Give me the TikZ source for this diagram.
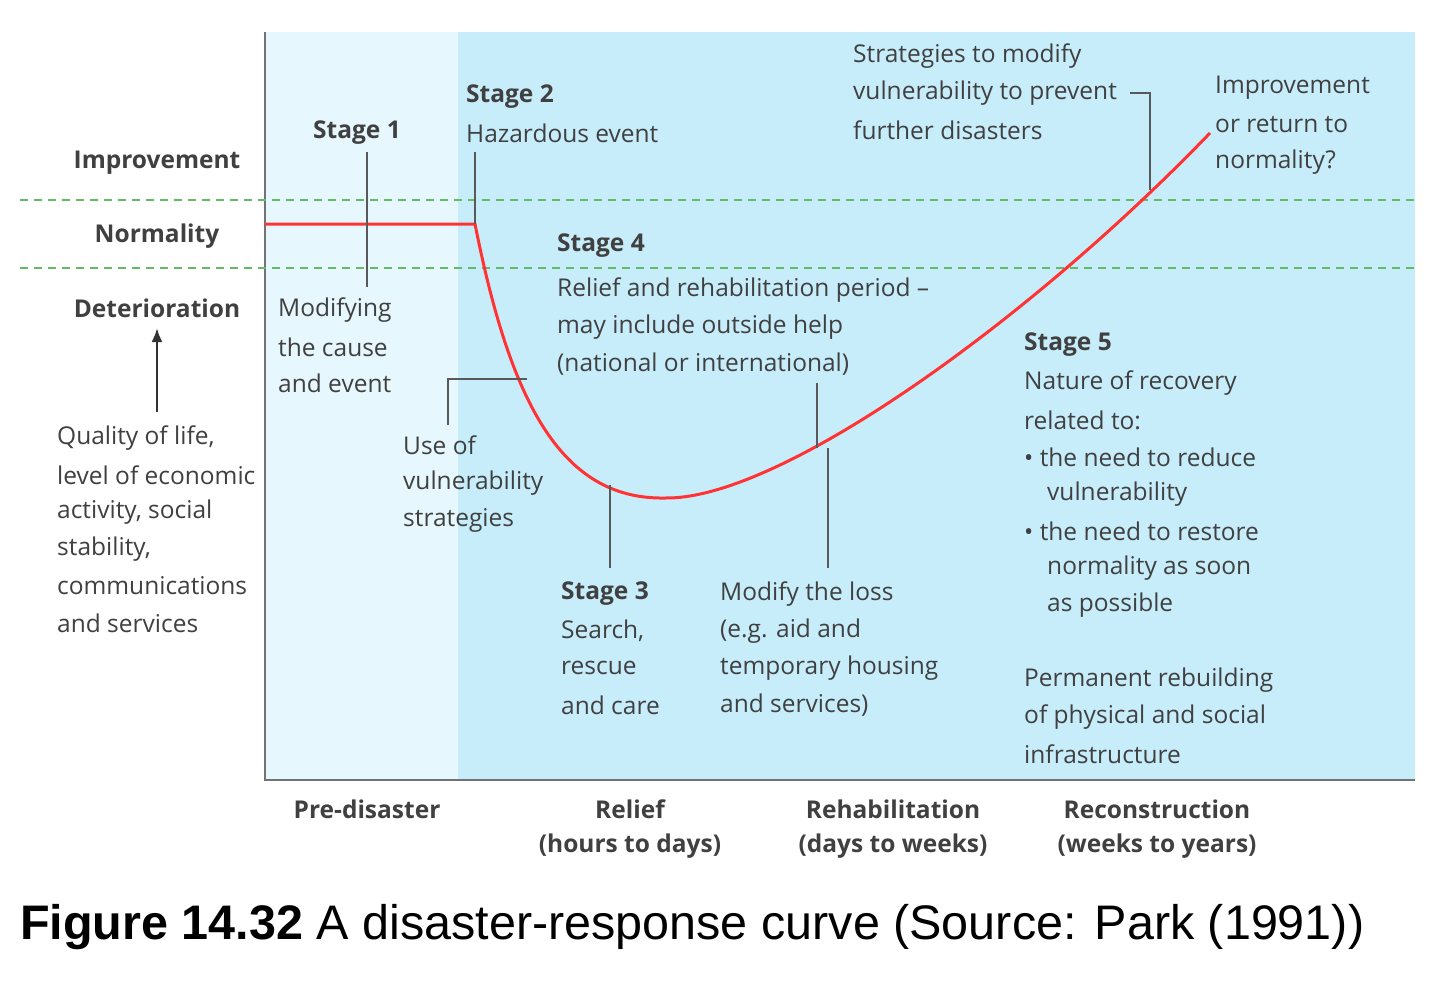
\documentclass[tikz,border=0pt]{standalone}
\usepackage{fontspec}
\setmainfont{Open Sans}
\newfontfamily\capfont{Liberation Sans}
\usetikzlibrary{arrows.meta}
\begin{document}
\begin{tikzpicture}[x=1pt,y=-1pt,
  txt/.style={anchor=west,inner sep=0pt,text=black!75,font=\fontsize{24.5}{30}\selectfont},
  btxt/.style={txt,font=\fontsize{24.5}{30}\selectfont\bfseries},
  ctxt/.style={btxt,anchor=center},
  lead/.style={draw=black!65,line width=1.5pt}]
\useasboundingbox (0,0) rectangle (1440,982);
\fill[white] (0,0) rectangle (1440,982);
\fill[cyan!10!white] (265,32) rectangle (458,780);
\fill[cyan!22!white] (458,32) rectangle (1415,780);
\draw[black!55,line width=2pt] (265,32) -- (265,780) -- (1415,780);
\draw[green!55!black!60,dashed,line width=1.3pt,dash pattern=on 8pt off 6pt] (20,200) -- (1415,200) (20,268) -- (1415,268);
\draw[red!80!white,line width=3pt] (265,224) -- (475,224) .. controls (510,400) and (560,500) .. (665,498) .. controls (780,500) and (1030,320) .. (1210,133);
% left labels
\node[ctxt] (imp) at (157,163) {Improvement};
\node[ctxt] (nor) at (157,236) {Normality};
\node[ctxt] (det) at (157,308) {Deterioration};
\coordinate (arrb) at (157,412);
\draw[-{Latex[length=14pt,width=11pt]},line width=2.5pt,black!80] (arrb) -- (157,328);
\foreach \t [count=\i] in {{Quality of life,},{level of economic},{activity, social},{stability,},{communications},{and services}}
  \node[txt] at (57,438+37*\i-37) {\t};
% stage 1
\node[btxt] (s1) at (313,133) {Stage 1};
\draw[lead] (367,152) -- (367,287);
\node[txt] at (278,310) {Modifying};
\node[txt] at (278,347) {the cause};
\node[txt] at (278,383) {and event};
% stage 2
\node[btxt] (s2) at (466,97) {Stage 2};
\node[txt] at (466,133) {Hazardous event};
\draw[lead] (475,152) -- (475,224);
% stage 4
\node[btxt] at (557,246) {Stage 4};
\node[txt] at (557,290) {Relief and rehabilitation period --};
\node[txt] at (557,327) {may include outside help};
\node[txt] at (557,364) {(national or international)};
\draw[lead] (817,383) -- (817,448);
% use of
\node[txt] at (403,445) {Use of};
\node[txt] at (403,483) {vulnerability};
\node[txt] at (403,520) {strategies};
\draw[lead] (448,425) -- (448,379) -- (527,379);
% stage 3
\node[btxt] at (561,594) {Stage 3};
\node[txt] at (561,631) {Search,};
\node[txt] at (561,668) {rescue};
\node[txt] at (561,705) {and care};
\draw[lead] (610,485) -- (610,568);
% modify loss
\node[txt] at (720,594) {Modify the loss};
\node[txt] at (720,631) {(e.g. aid and};
\node[txt] at (720,668) {temporary housing};
\node[txt] at (720,705) {and services)};
\draw[lead] (828,448) -- (828,568);
% strategies
\node[txt] at (853,56) {Strategies to modify};
\node[txt] at (853,93) {vulnerability to prevent};
\node[txt] at (853,130) {further disasters};
\draw[lead] (1130,93) -- (1150,93) -- (1150,190);
% improvement
\node[txt] at (1215,88) {Improvement};
\node[txt] at (1215,125) {or return to};
\node[txt] at (1215,162) {normality?};
% stage 5
\node[btxt] at (1024,345) {Stage 5};
\node[txt] at (1024,383) {Nature of recovery};
\node[txt] at (1024,420) {related to:};
\node[txt] at (1024,457) {\textbullet\ the need to reduce};
\node[txt] at (1047,494) {vulnerability};
\node[txt] at (1024,531) {\textbullet\ the need to restore};
\node[txt] at (1047,568) {normality as soon};
\node[txt] at (1047,605) {as possible};
\node[txt] at (1024,680) {Permanent rebuilding};
\node[txt] at (1024,717) {of physical and social};
\node[txt] at (1024,754) {infrastructure};
% bottom
\node[ctxt] at (367,809) {Pre-disaster};
\node[ctxt] at (630,809) {Relief};
\node[ctxt] at (630,846) {(hours to days)};
\node[ctxt] at (893,809) {Rehabilitation};
\node[ctxt] at (893,846) {(days to weeks)};
\node[ctxt] at (1157,809) {Reconstruction};
\node[ctxt] at (1157,846) {(weeks to years)};
\node[anchor=west,inner sep=0pt,font=\capfont\fontsize{48.5}{52}\selectfont] (cap) at (20,927) {\textbf{Figure 14.32} A disaster-response curve (Source: Park (1991))};
\end{tikzpicture}
\end{document}
